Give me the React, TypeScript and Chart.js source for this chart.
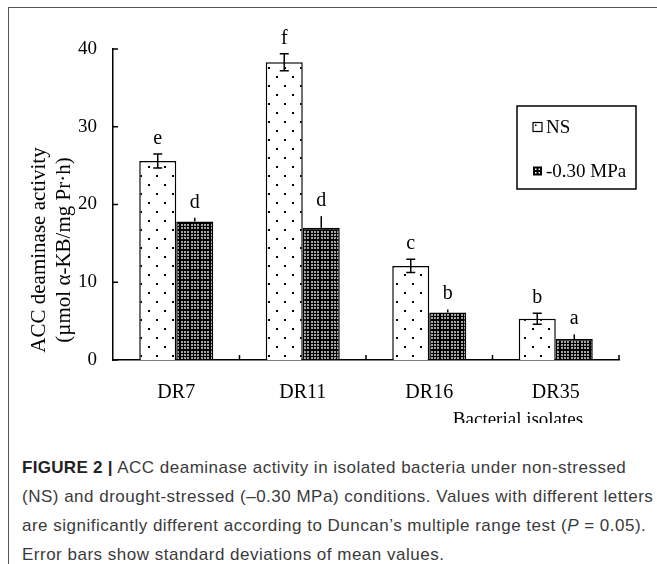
import React, { useEffect, useRef } from "react";
import { Chart, registerables } from "chart.js";

Chart.register(...registerables);

const categories = ["DR7", "DR11", "DR16", "DR35"];
const seriesLabels = ["NS", "-0.30 MPa"];
const nsValues = [25.6, 38.3, 12.1, 5.3];
const stressValues = [17.8, 17.0, 6.1, 2.7];
const nsErrors = [0.9, 1.1, 0.85, 0.7];
const stressErrors = [0.5, 1.5, 0.4, 0.6];
const nsLetters = ["e", "f", "c", "b"];
const stressLetters = ["d", "d", "b", "a"];
const yTicks = [0, 10, 20, 30, 40];
const yTitle = ["ACC deaminase activity", "(µmol α-KB/mg Pr·h)"];
const xTitle = "Bacterial isolates";

const SERIF = '"Liberation Serif", "Times New Roman", serif';
const W = 657;
const H = 423;

function makeDotPattern(ctx: CanvasRenderingContext2D): CanvasPattern | string {
  const c = document.createElement("canvas");
  c.width = 16;
  c.height = 18;
  const g = c.getContext("2d")!;
  g.fillStyle = "#fff";
  g.fillRect(0, 0, 16, 18);
  g.fillStyle = "#000";
  g.fillRect(4, 4, 2, 2);
  g.fillRect(12, 13, 2, 2);
  return ctx.createPattern(c, "repeat") || "#fff";
}

function makeDensePattern(ctx: CanvasRenderingContext2D): CanvasPattern | string {
  const c = document.createElement("canvas");
  c.width = 10;
  c.height = 10;
  const g = c.getContext("2d")!;
  g.fillStyle = "#000";
  g.fillRect(0, 0, 10, 10);
  g.fillStyle = "#fff";
  const pos = [1, 4, 7];
  for (const x of pos) for (const y of pos) g.fillRect(x + 0.2, y + 0.2, 1.6, 1.6);
  return ctx.createPattern(c, "repeat") || "#000";
}

const decorPlugin = {
  id: "decor",
  afterDraw(chart: any) {
    const ctx: CanvasRenderingContext2D = chart.ctx;
    const xs = chart.scales.x;
    const ys = chart.scales.y;
    const area = chart.chartArea;
    ctx.save();
    ctx.strokeStyle = "#000";
    ctx.fillStyle = "#000";
    ctx.lineWidth = 1.5;

    // inward y ticks
    for (const t of yTicks) {
      const y = ys.getPixelForValue(t);
      ctx.beginPath();
      ctx.moveTo(area.left, y);
      ctx.lineTo(area.left + 5, y);
      ctx.stroke();
    }
    // inward x ticks at category boundaries
    for (let i = 0; i < categories.length; i++) {
      const x = xs.getPixelForValue(i + 0.5);
      ctx.beginPath();
      ctx.moveTo(x, area.bottom);
      ctx.lineTo(x, area.bottom - 5);
      ctx.stroke();
    }

    // error bars + letters
    const errs = [nsErrors, stressErrors];
    const vals = [nsValues, stressValues];
    const letters = [nsLetters, stressLetters];
    ctx.font = `20px ${SERIF}`;
    ctx.textAlign = "center";
    ctx.textBaseline = "alphabetic";
    for (let d = 0; d < 2; d++) {
      const meta = chart.getDatasetMeta(d);
      meta.data.forEach((bar: any, j: number) => {
        const x = bar.x;
        const v = vals[d][j];
        const e = errs[d][j];
        const yTop = ys.getPixelForValue(v + e);
        const yBot = ys.getPixelForValue(v - e);
        const yV = ys.getPixelForValue(v);
        ctx.beginPath();
        if (d === 0) {
          ctx.moveTo(x, yTop);
          ctx.lineTo(x, yBot);
          ctx.moveTo(x - 4.5, yTop);
          ctx.lineTo(x + 4.5, yTop);
          ctx.moveTo(x - 4.5, yBot);
          ctx.lineTo(x + 4.5, yBot);
        } else {
          ctx.moveTo(x, yV);
          ctx.lineTo(x, yTop);
        }
        ctx.stroke();
        ctx.fillText(letters[d][j], x, yTop - 10);
      });
    }

    // y title (two lines, rotated)
    ctx.save();
    ctx.font = `21px ${SERIF}`;
    ctx.textBaseline = "middle";
    ctx.textAlign = "center";
    const cy = 250;
    [39, 64].forEach((cx, i) => {
      ctx.save();
      ctx.translate(cx, cy);
      ctx.rotate(-Math.PI / 2);
      ctx.fillText(yTitle[i], 0, 0);
      ctx.restore();
    });
    ctx.restore();

    // x title
    ctx.font = `19px ${SERIF}`;
    ctx.textAlign = "center";
    ctx.textBaseline = "alphabetic";
    ctx.fillText(xTitle, 518, 425);

    // legend
    const lx = 517, ly = 106, lw = 119, lh = 83;
    ctx.lineWidth = 1.5;
    ctx.strokeRect(lx, ly, lw, lh);
    const ds = chart.data.datasets;
    const rows = [127, 171];
    rows.forEach((ry, i) => {
      const sx = 533, sy = ry - 4.5, s = 9;
      if (i === 0) {
        ctx.fillStyle = "#fff";
        ctx.fillRect(sx, sy, s, s);
        ctx.lineWidth = 1.2;
        ctx.strokeRect(sx, sy, s, s);
        ctx.fillStyle = "#000";
        ctx.fillRect(sx + 2, sy + 2, 1.5, 1.5);
      } else {
        ctx.fillStyle = "#000";
        ctx.fillRect(sx, sy, s, s);
        ctx.fillStyle = "#fff";
        ctx.fillRect(sx + 2, sy + 2, 1.5, 1.5);
        ctx.fillRect(sx + 5.5, sy + 2, 1.5, 1.5);
        ctx.fillRect(sx + 2, sy + 5.5, 1.5, 1.5);
        ctx.fillRect(sx + 5.5, sy + 5.5, 1.5, 1.5);
      }
      ctx.fillStyle = "#000";
      ctx.font = `19px ${SERIF}`;
      ctx.textAlign = "left";
      ctx.textBaseline = "middle";
      ctx.fillText(ds[i].label, 546, ry + 1);
    });
    ctx.restore();
  },
};

function App() {
  const ref = useRef<HTMLCanvasElement | null>(null);
  useEffect(() => {
    const canvas = ref.current!;
    const ctx = canvas.getContext("2d")!;
    const chart = new Chart(canvas, {
      type: "bar",
      data: {
        labels: categories,
        datasets: [
          {
            label: seriesLabels[0],
            data: nsValues,
            backgroundColor: makeDotPattern(ctx) as any,
            borderColor: "#000",
            borderWidth: 1.5,
            borderSkipped: "start",
          },
          {
            label: seriesLabels[1],
            data: stressValues,
            backgroundColor: makeDensePattern(ctx) as any,
            borderColor: "#000",
            borderWidth: 1.5,
            borderSkipped: "start",
          },
        ],
      },
      options: {
        responsive: false,
        animation: false,
        devicePixelRatio: 1,
        layout: { padding: { left: 0, right: 38, top: 49, bottom: 0 } },
        datasets: { bar: { barPercentage: 1.0, categoryPercentage: 0.585 } },
        plugins: { legend: { display: false }, tooltip: { enabled: false }, title: { display: false } },
        scales: {
          x: {
            type: "category",
            offset: true,
            grid: { display: false, drawTicks: false, tickLength: 0 },
            border: { display: true, color: "#000", width: 1.5 },
            ticks: { color: "#000", font: { family: SERIF, size: 20 }, padding: 21, maxRotation: 0 },
            afterFit: (s: any) => { s.height = H - 360; },
          },
          y: {
            min: 0,
            max: 40,
            grid: { display: false, drawTicks: false, tickLength: 0 },
            border: { display: true, color: "#000", width: 1.5 },
            ticks: { stepSize: 10, color: "#000", font: { family: SERIF, size: 19 }, padding: 16 },
            afterFit: (s: any) => { s.width = 113; },
          },
        },
      } as any,
      plugins: [decorPlugin],
    });
    return () => chart.destroy();
  }, []);

  const line: React.CSSProperties = { whiteSpace: "nowrap", height: 29, lineHeight: "29px" };
  return (
    <div style={{ position: "absolute", left: 0, top: 0, width: W, height: 564, background: "#fff", overflow: "hidden" }}>
      <div style={{ position: "absolute", left: 8, top: 7, right: -2, bottom: -2, borderTop: "1.5px solid #555", borderLeft: "1.5px solid #555" }} />
      <canvas ref={ref} width={W} height={H} style={{ position: "absolute", left: 0, top: 0, width: W, height: H }} />
      <div style={{ position: "absolute", left: 22, top: 453, fontFamily: '"Liberation Sans", Arial, sans-serif', fontSize: 17, letterSpacing: "0.5px", color: "#3a3a3a" }}>
        <div style={line}><b style={{ color: "#222", letterSpacing: "0.3px" }}>FIGURE 2 |</b> ACC deaminase activity in isolated bacteria under non-stressed</div>
        <div style={line}>(NS) and drought-stressed (–0.30 MPa) conditions. Values with different letters</div>
        <div style={line}>are significantly different according to Duncan’s multiple range test (<i>P</i> = 0.05).</div>
        <div style={line}>Error bars show standard deviations of mean values.</div>
      </div>
    </div>
  );
}

export default App;
